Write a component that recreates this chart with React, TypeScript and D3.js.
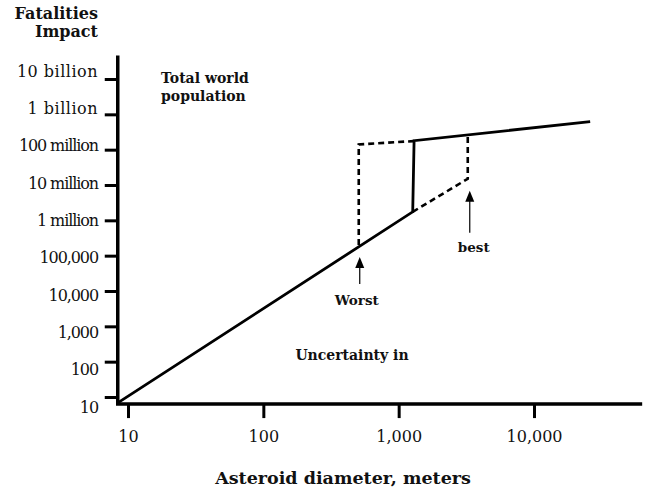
import { useEffect, useRef } from 'react';
import * as d3 from 'd3';

// y axis: fatalities (log)
const yTickValues = [10, 100, 1e3, 1e4, 1e5, 1e6, 1e7, 1e8, 1e9, 1e10];
const yTickLabels = ['10', '100', '1,000', '10,000', '100,000', '1 million', '10 million', '100 million', '1 billion', '10 billion'];

// x axis: asteroid diameter (log)
const xTickValues = [10, 100, 1000, 10000];
const xTickLabels = ['10', '100', '1,000', '10,000'];

// axis extents (data units)
const xAxisExtent = [8.4, 63000];
const yAxisExtent = [6.3, 4.6e10];

// main curve
const mainDiameter = [8.4, 1270, 1300, 26000];
const mainFatalities = [6.8, 1.74e6, 1.8e8, 6.2e8];

// uncertainty: worst case
const worstDiameter = [507, 507, 1290];
const worstFatalities = [2.0e5, 1.4e8, 1.75e8];

// uncertainty: best case
const bestDiameter = [1270, 3240, 3240];
const bestFatalities = [1.74e6, 1.5e7, 2.6e8];

const width = 646,
  height = 489;

const font = '"DejaVu Serif", serif';

export default function App() {
  const svgRef = useRef<SVGSVGElement>(null);

  useEffect(() => {
    const svg = d3.select(svgRef.current);
    svg.selectAll('*').remove();

    const x = d3.scaleLog().domain([10, 10000]).range([128, 534]);
    const y = d3.scaleLog().domain([10, 1e10]).range([397, 79]);
    // tick labels sit on a slightly wider spacing than the ticks
    const yLabel = d3.scaleLog().domain([10, 1e10]).range([407, 71]);

    const x0 = x(xAxisExtent[0]);
    const y0 = y(yAxisExtent[0]);

    // y axis ticks
    const yAxis = svg
      .append('g')
      .attr('transform', `translate(${x0},0)`)
      .call(
        d3
          .axisLeft(y)
          .tickValues(yTickValues)
          .tickSize(13)
          .tickFormat(() => ''),
      );
    yAxis.select('.domain').remove();
    yAxis.selectAll('line').attr('stroke', '#000').attr('stroke-width', 3);

    // x axis ticks + labels
    const xAxis = svg
      .append('g')
      .attr('transform', `translate(0,${y0})`)
      .call(
        d3
          .axisBottom(x)
          .tickValues(xTickValues)
          .tickSize(14)
          .tickPadding(13)
          .tickFormat((d, i) => xTickLabels[i]),
      );
    xAxis.select('.domain').remove();
    xAxis.selectAll('line').attr('stroke', '#000').attr('stroke-width', 3);
    xAxis
      .selectAll('text')
      .attr('fill', '#111')
      .style('font-family', font)
      .style('font-size', '16px');

    // axis lines
    svg
      .append('path')
      .attr('d', `M${x0},${y(yAxisExtent[1])}V${y0}H${x(xAxisExtent[1])}`)
      .attr('fill', 'none')
      .attr('stroke', '#000')
      .attr('stroke-width', 3.5);

    // y tick labels
    svg
      .append('g')
      .selectAll('text')
      .data(yTickValues)
      .join('text')
      .attr('x', 98)
      .attr('y', (d) => yLabel(d))
      .attr('text-anchor', 'end')
      .attr('dominant-baseline', 'central')
      .attr('fill', '#111')
      .style('font-family', font)
      .style('font-size', '16px')
      .style('letter-spacing', (d, i) => (yTickLabels[i].includes('billion') ? '0.5px' : '-1.1px'))
      .text((d, i) => yTickLabels[i]);

    const line = d3
      .line<[number, number]>()
      .x((d) => x(d[0]))
      .y((d) => y(d[1]));

    const toPts = (xs: number[], ys: number[]) => xs.map((v, i) => [v, ys[i]] as [number, number]);

    // dashed uncertainty paths
    [toPts(worstDiameter, worstFatalities), toPts(bestDiameter, bestFatalities)].forEach((pts) => {
      svg
        .append('path')
        .attr('d', line(pts))
        .attr('fill', 'none')
        .attr('stroke', '#000')
        .attr('stroke-width', 2.6)
        .attr('stroke-dasharray', '6,4');
    });

    // main line
    svg
      .append('path')
      .attr('d', line(toPts(mainDiameter, mainFatalities)))
      .attr('fill', 'none')
      .attr('stroke', '#000')
      .attr('stroke-width', 2.8)
      .attr('stroke-linejoin', 'miter');

    // arrows
    const arrow = (ax: number, tipY: number, tailY: number) => {
      svg
        .append('line')
        .attr('x1', ax)
        .attr('x2', ax)
        .attr('y1', tipY + 8)
        .attr('y2', tailY)
        .attr('stroke', '#000')
        .attr('stroke-width', 1.2);
      svg
        .append('path')
        .attr('d', `M${ax},${tipY}L${ax - 4.5},${tipY + 11}L${ax + 4.5},${tipY + 11}Z`)
        .attr('fill', '#000');
    };
    const worstX = x(worstDiameter[0]);
    const bestX = x(bestDiameter[1]);
    arrow(worstX + 1, y(worstFatalities[0]) + 12, y(worstFatalities[0]) + 39);
    arrow(bestX + 2, y(bestFatalities[1]) + 12, y(bestFatalities[1]) + 54);

    const bold = (t: string, tx: number, ty: number, size: number, anchor = 'start') =>
      svg
        .append('text')
        .attr('x', tx)
        .attr('y', ty)
        .attr('text-anchor', anchor)
        .attr('dominant-baseline', 'central')
        .attr('fill', '#111')
        .style('font-family', font)
        .style('font-weight', 'bold')
        .style('font-size', `${size}px`)
        .text(t);

    bold('Worst', worstX - 2, 300, 13.5, 'middle');
    bold('best', bestX + 6, 247, 13.5, 'middle');
    bold('Total world', 161, 78, 14);
    bold('population', 161, 96, 14);
    bold('Uncertainty in', 352, 355, 14, 'middle');
    bold('Fatalities', 98, 13, 16, 'end');
    bold('Impact', 98, 31, 16, 'end');
    bold('Asteroid diameter, meters', 343, 478, 17.5, 'middle');
  }, []);

  return (
    <svg
      ref={svgRef}
      width={width}
      height={height}
      viewBox={`0 0 ${width} ${height}`}
      style={{ position: 'absolute', left: 0, top: 0, background: '#fff' }}
    />
  );
}
